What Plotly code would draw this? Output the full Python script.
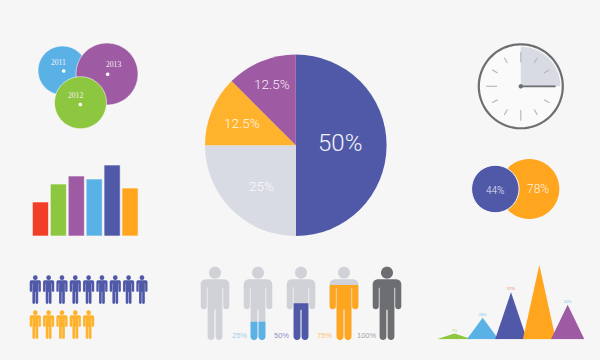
import math
import plotly.graph_objects as go

# ---------- data ----------
pie_labels = ["50%", "25%", "12.5%", "12.5%"]
pie_values = [50, 25, 12.5, 12.5]
bar_categories = ["A", "B", "C", "D", "E", "F"]
bar_values = [34, 52, 60, 57, 71, 48]
year_labels = ["2011", "2013", "2012"]
venn_labels = ["78%", "44%"]
clock_minutes = 15
clock_ticks = 12
small_people_rows = [9, 5]
fill_levels = [0, 25, 50, 75, 100]
fill_labels = ["", "25%", "50%", "75%", "100%"]
peak_labels = ["7%", "26%", "57%", "90%", "42%"]
peak_values = [7, 26, 57, 90, 42]

# ---------- style ----------
BG = "#F6F6F6"
INDIGO, PURPLE, ORANGE, AMBER = "#5059A8", "#9E5AA2", "#FFA51E", "#FFB22C"
BLUE, GREEN, RED = "#5AB1E6", "#8DC63F", "#F23D27"
LIGHT, PERSON, DARK = "#D8DBE3", "#D1D2D7", "#6D6E71"
W, H = 600, 360


def dom_x(a, b):
    return [a / W, b / W]


def dom_y(top, bottom):
    return [1 - bottom / H, 1 - top / H]


fig = go.Figure()
annotations = []


def note(x, y, text, size, color, family="Roboto", weight=300):
    annotations.append(dict(x=x, y=y, xref="x", yref="y", text=text, showarrow=False,
                            xanchor="center", yanchor="middle",
                            font=dict(size=size, color=color, family=family, weight=weight)))


def circle(cx, cy, r, n=90, a0=0.0, a1=2 * math.pi):
    return [(cx + r * math.cos(a0 + (a1 - a0) * i / n),
             cy + r * math.sin(a0 + (a1 - a0) * i / n)) for i in range(n + 1)]


def poly(points, color, line=None, lw=0, xa="x", ya="y"):
    fig.add_trace(go.Scatter(x=[p[0] for p in points], y=[p[1] for p in points], mode="lines",
                             fill="toself", fillcolor=color, xaxis=xa, yaxis=ya,
                             line=dict(color=line or color, width=lw, simplify=False), hoverinfo="skip"))


def segment(a, b, color, width):
    fig.add_trace(go.Scatter(x=[a[0], b[0]], y=[a[1], b[1]], mode="lines",
                             line=dict(color=color, width=width), hoverinfo="skip"))


# ---------- page axis backdrop trace ----------
fig.add_trace(go.Scatter(x=[0, W], y=[0, H], mode="markers", marker=dict(opacity=0), hoverinfo="skip"))

# ---------- year bubbles ----------
for cx, cy, r, c in [(62.5, 70.5, 24.5, BLUE), (107, 74, 31, PURPLE), (80.5, 102.7, 26, GREEN)]:
    poly(circle(cx, cy, r), c, line="#FAFAFA", lw=0.6)
for (tx, ty), (dx, dy), lab in zip([(58, 62.5), (113.7, 64.5), (75.7, 95)],
                                   [(63.7, 71), (107.7, 74.3), (80.3, 104.5)], year_labels):
    note(tx, ty, lab, 7.6, "#F3EEF5", family="Liberation Serif", weight=400)
    poly(circle(dx, dy, 1.8, n=24), "#FFFFFF")

# ---------- bars ----------
fig.add_trace(go.Bar(x=bar_categories, y=bar_values, xaxis="x2", yaxis="y2", width=0.9,
                     marker=dict(color=[RED, GREEN, PURPLE, BLUE, INDIGO, ORANGE],
                                 line=dict(color="#FBFBFB", width=0.6)), hoverinfo="skip"))

# ---------- pie ----------
fig.add_trace(go.Pie(labels=["a", "b", "c", "d"], values=pie_values, sort=False, direction="clockwise",
                     rotation=0, textinfo="none", hoverinfo="skip", showlegend=False,
                     marker=dict(colors=[INDIGO, LIGHT, AMBER, PURPLE], line=dict(width=0)),
                     domain=dict(x=dom_x(205, 386.6), y=dom_y(54.5, 236.1))))
for (tx, ty, sz), lab, col in zip([(340, 143.3, 24), (261.7, 186, 13.5), (241.7, 123.3, 13.5), (271.7, 84, 13.5)],
                                  pie_labels, ["#F2F2FA", "#FBFBFD", "#FFF8EA", "#F6EAF6"]):
    note(tx, ty, lab, sz, col)

# ---------- clock ----------
CX, CY, R = 520.8, 86.3, 42
poly(circle(CX, CY, R), "#FAFAFA", line=DARK, lw=2.2)
sweep = clock_minutes / 60 * 2 * math.pi
wedge = [(CX, CY)] + circle(CX, CY, 39.5, n=40, a0=-math.pi / 2, a1=-math.pi / 2 + sweep) + [(CX, CY)]
poly(wedge, LIGHT)
for i in range(clock_ticks):
    a = 2 * math.pi * i / clock_ticks
    r0 = 23.7 if i % 3 == 0 else 26.8
    r1 = 34.5 if i % 3 == 0 else 33
    segment((CX + r0 * math.sin(a), CY - r0 * math.cos(a)),
            (CX + r1 * math.sin(a), CY - r1 * math.cos(a)), "#B4B5B9", 1.1)
segment((CX, CY), (CX + 34.7 * math.sin(sweep), CY - 34.7 * math.cos(sweep)), DARK, 1.7)
poly(circle(CX, CY, 2.2, n=24), DARK)

# ---------- overlap circles ----------
poly(circle(529.3, 189, 30), ORANGE)
poly(circle(495.3, 189, 23.7), INDIGO, line="#FFFFFF", lw=1)
note(537.7, 189, venn_labels[0], 12, "#FFF3E0")
note(495.7, 190, venn_labels[1], 10, "#E6E8F5")


# ---------- person icon ----------
HW, ARM_IN, TW, BODY_TOP, FULL_H = 14.3, 8.2, 7.4, 12.6, 73.3


def legs_half():
    pts = circle((TW + 0.6) / 2, FULL_H - (TW - 0.6) / 2, (TW - 0.6) / 2, n=8, a0=0, a1=math.pi)
    return pts + [(0.6, 43), (0, 43)]


def person_body():
    """Right side, from neck to crotch, then mirrored."""
    rt = [(0, BODY_TOP)]
    rt += circle(HW - 5, BODY_TOP + 5, 5, n=8, a0=-math.pi / 2, a1=0)
    rt += circle((HW + ARM_IN) / 2, 39.6, (HW - ARM_IN) / 2, n=8, a0=0, a1=math.pi)
    rt += [(ARM_IN, 21), (TW, 21)]
    rt += legs_half()
    return rt + [(-x, y) for x, y in reversed(rt)]


def person_trunk():
    """Torso and legs alone, without the arms."""
    rt = [(0, 21), (TW, 21)] + legs_half()
    return rt + [(-x, y) for x, y in reversed(rt)]


def clip_below(points, y_cut):
    """Keep the part of a polygon at or below y_cut (screen coordinates)."""
    out = []
    n = len(points)
    for i in range(n):
        a, b = points[i], points[(i + 1) % n]
        ina, inb = a[1] >= y_cut, b[1] >= y_cut
        if ina:
            out.append(a)
        if ina != inb:
            t = (y_cut - a[1]) / (b[1] - a[1])
            out.append((a[0] + t * (b[0] - a[0]), y_cut))
    return out


BODY = person_body()
TRUNK = person_trunk()
HEAD = circle(0, 6, 6, n=36)


def person(cx, top, scale, colour):
    place = lambda pts: [(cx + x * scale, top + y * scale) for x, y in pts]
    poly(place(HEAD), colour)
    poly(place(BODY), colour)


# small rows of people
for row, count in enumerate(small_people_rows):
    for i in range(count):
        person(35.3 + 13.33 * i, 275.3 + 35 * row, 0.39, INDIGO if row == 0 else AMBER)

# large people with fill level
fill_colours = [PERSON, BLUE, INDIGO, ORANGE, DARK]
label_colours = ["#000000", "#9CD0EE", "#8D92C6", "#FFC472", "#A3A4A7"]
for i, (level, lab, col, lc) in enumerate(zip(fill_levels, fill_labels, fill_colours, label_colours)):
    cx, top = 215 + 43 * i, 266.7
    if level == 100:
        person(cx, top, 1, DARK)
    else:
        person(cx, top, 1, PERSON)
        if level:
            shape = BODY if level > 50 else TRUNK
            clipped = clip_below(shape, FULL_H * (1 - level / 100))
            poly([(cx + x, top + y) for x, y in clipped], col)
    if lab:
        note(239 + 42.6 * (i - 1), 335.7, lab, 7.5, lc, family="Liberation Sans", weight=400)

# ---------- peaks ----------
peak_colours = [GREEN, BLUE, INDIGO, ORANGE, PURPLE]
label_tints = ["#A9D37A", "#7CC3EA", "#F0805F", "#A9D37A", "#7CC3EA"]
half_widths = [0.62, 0.56, 0.56, 0.58, 0.59]
for i, v in enumerate(peak_values):
    hw = half_widths[i]
    poly([(i - hw, 0), (i, v), (i + hw, 0), (i - hw, 0)], peak_colours[i], xa="x3", ya="y3")
fig.add_trace(go.Scatter(x=list(range(5)), y=[v + 3.4 for v in peak_values], mode="text", text=peak_labels,
                         xaxis="x3", yaxis="y3", hoverinfo="skip", cliponaxis=False,
                         textfont=dict(size=4, color=label_tints, family="Liberation Sans")))

# ---------- layout ----------
hidden = dict(visible=False, fixedrange=True)
fig.update_layout(
    width=W, height=H, paper_bgcolor=BG, plot_bgcolor="rgba(0,0,0,0)", showlegend=False,
    margin=dict(l=0, r=0, t=0, b=0), annotations=annotations,
    xaxis=dict(range=[0, W], domain=[0, 1], **hidden),
    yaxis=dict(range=[H, 0], domain=[0, 1], **hidden),
    xaxis2=dict(domain=dom_x(31.5, 139), range=[-0.5, 5.5], anchor="y2", **hidden),
    yaxis2=dict(domain=dom_y(165, 236), range=[0, 71], anchor="x2", **hidden),
    xaxis3=dict(domain=dom_x(426, 596), range=[-1, 5], anchor="y3", **hidden),
    yaxis3=dict(domain=dom_y(265, 339.3), range=[0, 90], anchor="x3", **hidden),
)
fig.write_html("out.html", config=dict(displayModeBar=False),
               post_script="document.body.style.margin='0';document.body.style.overflow='hidden';"
                           "document.body.style.background='#F6F6F6';")
